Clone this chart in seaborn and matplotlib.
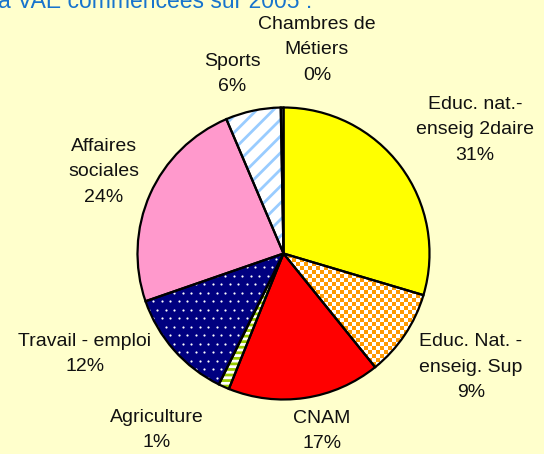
"""
Répartition des VAE commencées sur 2005 par organisme (camembert).
"""
import numpy as np
import matplotlib
matplotlib.use("Agg")
import matplotlib.pyplot as plt
from matplotlib.colors import ListedColormap
import seaborn as sns

# --- style ---
sns.set_theme(style="white")
plt.rcParams['font.family'] = ['Liberation Sans', 'DejaVu Sans']
plt.rcParams['hatch.linewidth'] = 2.0

# --- données ---
title = "a VAE commencées sur 2005 :"
categories = ["Educ. nat.-\nenseig 2daire", "Educ. Nat. -\nenseig. Sup", "CNAM",
              "Agriculture", "Travail - emploi", "Affaires\nsociales", "Sports",
              "Chambres de\nMétiers"]
shares = [29.6, 9.6, 16.9, 1.2, 12.4, 23.9, 6.1, 0.3]
pct_labels = ["31%", "9%", "17%", "1%", "12%", "24%", "6%", "0%"]

# --- apparence ---
BG = "#FFFFCC"
face_colors = ["#FFFF00", "white", "#FF0000", "white", "#000080", "#FF99CC", "white", "#CCFFFF"]
hatches = [None, None, None, "---", None, None, "//", None]
hatch_colors = [None, None, None, "#99CC00", None, None, "#99CCFF", None]
# centre des étiquettes, en pixels depuis le coin haut-gauche
label_pos = [(475, 130), (471, 367), (322, 431), (157, 430),
             (85, 354), (104, 172), (232, 74), (317, 50)]

W, H = 544, 454
fig = plt.figure(figsize=(W / 100, H / 100), dpi=100, facecolor=BG)
ax = fig.add_axes([0, 0, 1, 1])
ax.set_facecolor(BG)

center = (283.5, H - 253.5)
radius = 146

# remplissage
wedges, _ = ax.pie(shares, colors=face_colors, startangle=90, counterclock=False,
                   center=center, radius=radius, frame=True,
                   wedgeprops=dict(linewidth=0))
for w, h, hc in zip(wedges, hatches, hatch_colors):
    if h:
        w.set_hatch(h)
        w.set_edgecolor(hc)

# damier orange pour l'enseignement sup
n = 4
yy, xx = np.mgrid[0:H // n + 1, 0:W // n + 1]
board = (xx + yy) % 2
im = ax.imshow(board, cmap=ListedColormap(["white", "#FF9900"]),
               extent=(0, board.shape[1] * n, 0, board.shape[0] * n),
               origin="lower", interpolation="nearest", zorder=1.5)
im.set_clip_path(wedges[1])

# petits points blancs sur le bleu marine (travail - emploi)
step = 8.5
gy, gx = np.mgrid[0:H / step, 0:W / step]
px = (gx + 0.5 * (gy % 2)) * step
py = gy * step
dots = ax.scatter(px.ravel(), py.ravel(), s=2.5, color="white", linewidths=0, zorder=1.5)
dots.set_clip_path(wedges[4])

# contours
ax.pie(shares, startangle=90, counterclock=False, center=center, radius=radius,
       frame=True, wedgeprops=dict(fill=False, edgecolor="black", linewidth=1.6, zorder=2))

# étiquettes
for cat, pct, (x, y) in zip(categories, pct_labels, label_pos):
    ax.text(x, H - y, f"{cat}\n{pct}", ha="center", va="center", fontsize=14,
            linespacing=1.62, multialignment="center", color="#111111", zorder=3)

# titre coupé en haut
ax.text(-2, H - 8, title, ha="left", va="baseline", fontsize=16.5, color="#1874CD")

ax.set_xlim(0, W)
ax.set_ylim(0, H)
ax.set_aspect("equal")
ax.axis("off")

fig.savefig("out.png", dpi=100, facecolor=BG)
